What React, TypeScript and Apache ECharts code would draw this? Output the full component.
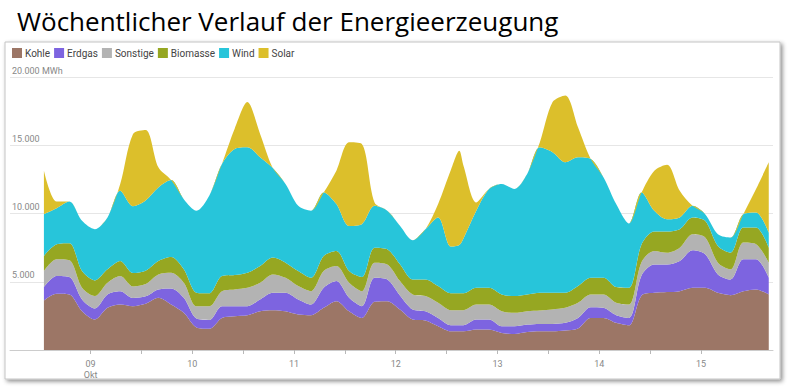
import React, { useEffect, useRef } from 'react';
import * as echarts from 'echarts';

// hours relative to 09 Okt 00:00
const hours = [-11, -8, -5, -2, 1, 4, 7, 10, 13, 16, 19, 22, 25, 28, 31, 34, 37, 40, 43, 46, 49, 52, 55, 58, 61, 64, 67, 70, 73, 76, 79, 82, 85, 87, 88, 91, 94, 97, 100, 103, 106, 109, 112, 115, 118, 121, 124, 127, 130, 133, 136, 139, 142, 145, 148, 151, 154, 157, 160];

const kohle = [3630, 4120, 4070, 2840, 2230, 3090, 3330, 3210, 3380, 3820, 3330, 2720, 1650, 1550, 2350, 2480, 2550, 2840, 2920, 2840, 2600, 2550, 3090, 3580, 2840, 2350, 3530, 3580, 2960, 2230, 2160, 1740, 1370, 1370, 1370, 1500, 1500, 1250, 1180, 1320, 1370, 1370, 1420, 1570, 2350, 2350, 1990, 1810, 4000, 4190, 4240, 4310, 4560, 4560, 4190, 4020, 4310, 4440, 4070];
const erdgas = [980, 1300, 1270, 860, 810, 980, 980, 600, 550, 620, 1180, 1100, 650, 650, 860, 730, 660, 860, 1270, 1350, 1100, 780, 1470, 1470, 980, 860, 1760, 1590, 1040, 740, 680, 610, 450, 450, 450, 730, 730, 490, 560, 540, 540, 540, 570, 780, 790, 740, 560, 540, 1480, 2080, 2030, 2210, 2740, 2450, 1350, 1150, 2330, 2200, 1230];
const sonstige = [1170, 1220, 1230, 860, 910, 860, 1110, 850, 900, 1100, 1150, 1110, 900, 1000, 1100, 1230, 1350, 1230, 1350, 1100, 980, 980, 1220, 1100, 1110, 1100, 1110, 1100, 1050, 1100, 1110, 1110, 1100, 1100, 1100, 1100, 1100, 1100, 980, 980, 980, 1060, 1100, 1110, 930, 980, 910, 980, 970, 990, 860, 980, 1180, 1230, 860, 740, 1230, 1110, 1100];
const biomasse = [1110, 1110, 1250, 1220, 1150, 980, 1100, 980, 980, 980, 1150, 980, 1000, 950, 1110, 1050, 1100, 1220, 1230, 1110, 1100, 980, 1110, 1110, 850, 1030, 1100, 1110, 1230, 1100, 1220, 1220, 1230, 1230, 1230, 1230, 1230, 1230, 1230, 1230, 1300, 1220, 1100, 1220, 1220, 1220, 1150, 1230, 1300, 1420, 1550, 1350, 1230, 1220, 1220, 1220, 1100, 1220, 1100];
const wind = [3060, 2640, 3060, 3680, 3750, 3800, 5150, 4900, 5150, 5390, 5640, 5140, 6000, 7150, 8210, 9240, 9190, 7970, 6560, 5760, 4780, 4910, 4650, 3430, 3310, 3880, 3060, 2820, 2820, 2870, 3680, 5030, 3430, 3550, 4040, 5640, 7230, 8090, 7840, 8820, 10660, 10300, 9560, 9440, 8710, 7360, 6080, 4710, 3790, 1520, 900, 860, 850, 490, 860, 1110, 980, 1100, 1100];
const solar = [3190, 490, 0, 0, 0, 0, 490, 5270, 5150, 1470, 0, 0, 0, 0, 0, 1470, 3310, 1710, 0, 0, 0, 0, 0, 2450, 6130, 5880, 250, 0, 0, 0, 0, 980, 5600, 6900, 5290, 610, 0, 0, 0, 0, 370, 3670, 4900, 2200, 0, 0, 0, 0, 0, 2940, 4000, 1960, 0, 0, 0, 0, 0, 1720, 5150];

const seriesNames = ['Kohle', 'Erdgas', 'Sonstige', 'Biomasse', 'Wind', 'Solar'];
const seriesValues = [kohle, erdgas, sonstige, biomasse, wind, solar];
const colors = ['#9c7666', '#7d64e0', '#b3b3b3', '#96a722', '#27c5da', '#dcbf2b'];

const tickHours = [0, 12, 24, 36, 48, 60, 72, 84, 96, 108, 120, 132, 144];
const dayHours = [0, 24, 48, 72, 96, 120, 144];
const dayLabels = ['09\nOkt', '10', '11', '12', '13', '14', '15'];
const yLabels: Record<number, string> = { 5000: '5.000', 10000: '10.000', 15000: '15.000', 20000: '20.000 MWh' };

const FONT = 'Roboto, "DejaVu Sans", sans-serif';

export default function App() {
  const ref = useRef<HTMLDivElement>(null);
  useEffect(() => {
    if (!ref.current) return;
    const chart = echarts.init(ref.current, undefined, { renderer: 'svg' });
    chart.setOption({
      animation: false,
      backgroundColor: '#ffffff',
      graphic: [
        {
          type: 'rect',
          z: -10,
          shape: { x: 5, y: 42, width: 775, height: 337 },
          style: {
            fill: '#ffffff',
            stroke: '#c4c4c4',
            lineWidth: 1,
            shadowBlur: 4,
            shadowOffsetX: 2,
            shadowOffsetY: 2,
            shadowColor: 'rgba(0,0,0,0.45)',
          },
        },
        {
          type: 'text',
          x: 17,
          y: 5,
          style: {
            text: 'Wöchentlicher Verlauf der Energieerzeugung',
            fontFamily: '"Open Sans", sans-serif',
            fontSize: 26,
            lineHeight: 32,
            fill: '#000000',
          },
        },
      ],
      legend: {
        left: 12,
        top: 48,
        padding: 0,
        itemWidth: 10,
        itemHeight: 10,
        itemGap: 4,
        icon: 'rect',
        textStyle: { color: '#444', fontSize: 10, fontFamily: FONT, padding: [0, 0, 0, -2] },
        data: seriesNames,
      },
      grid: { left: 10, right: 18, top: 77, bottom: 40, containLabel: false },
      xAxis: {
        type: 'value',
        min: -19,
        max: 161,
        axisLine: { show: true, lineStyle: { color: '#cccccc' } },
        axisTick: { show: true, customValues: tickHours, length: 4, lineStyle: { color: '#b8b8b8' } },
        axisLabel: {
          customValues: dayHours,
          formatter: (v: number) => dayLabels[dayHours.indexOf(Math.round(v))] ?? '',
          color: '#888',
          fontSize: 9,
          lineHeight: 11,
          margin: 8,
          fontFamily: FONT,
        },
        splitLine: { show: false },
      },
      yAxis: {
        type: 'value',
        min: 0,
        max: 20000,
        interval: 5000,
        axisLine: { show: false },
        axisTick: { show: false },
        axisLabel: {
          inside: true,
          margin: 2,
          verticalAlign: 'bottom',
          padding: [0, 0, 2, 0],
          color: '#888',
          fontSize: 9,
          fontFamily: FONT,
          formatter: (v: number) => yLabels[v] ?? '',
        },
        splitLine: { lineStyle: { color: '#e6e6e6' } },
      },
      series: seriesNames.map((name, i) => ({
        name,
        type: 'line',
        stack: 'total',
        smooth: 0.3,
        showSymbol: false,
        symbol: 'none',
        lineStyle: { width: 0 },
        itemStyle: { color: colors[i] },
        areaStyle: { color: colors[i], opacity: 1 },
        emphasis: { disabled: true },
        encode: { x: 1, y: 0 },
        data: hours.map((h, j) => [seriesValues[i][j], h]),
      })),
    });
    return () => chart.dispose();
  }, []);
  return (
    <div
      ref={ref}
      style={{ position: 'absolute', left: 0, top: 0, width: 791, height: 390 }}
    />
  );
}
